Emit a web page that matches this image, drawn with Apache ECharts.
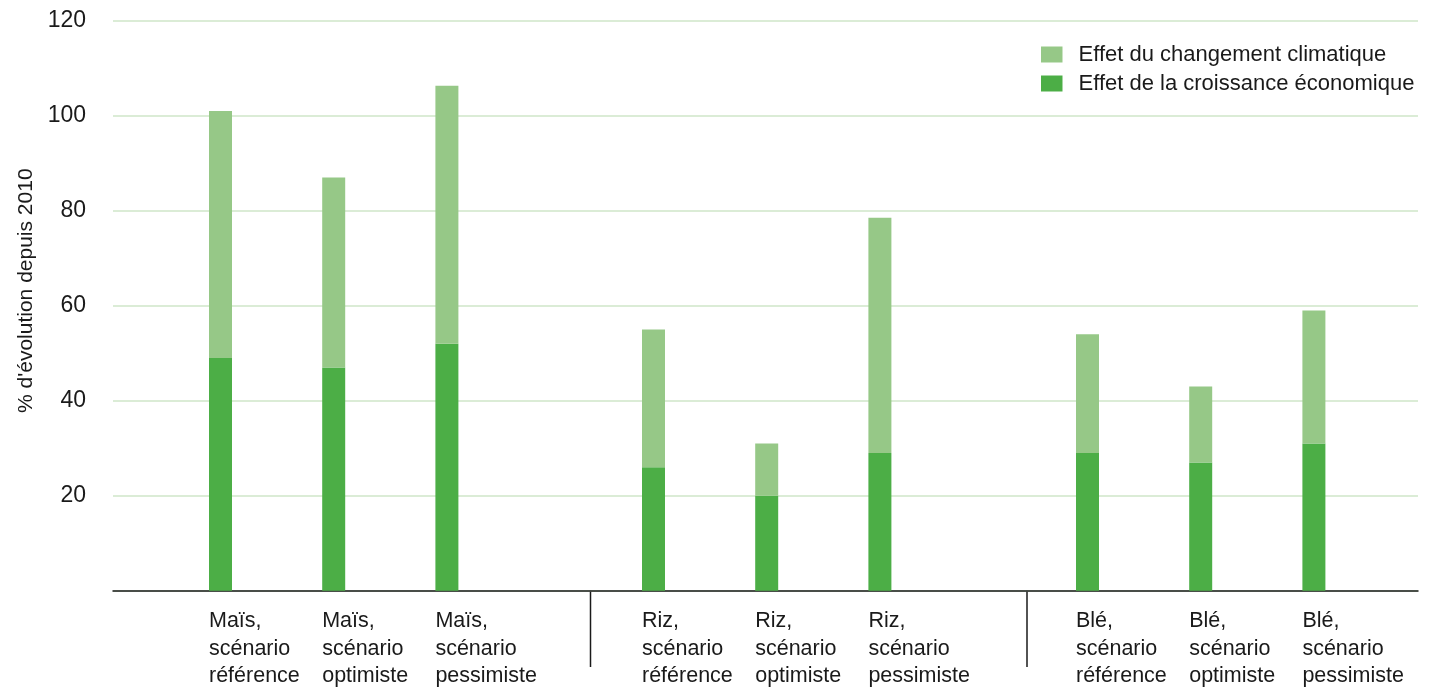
<!DOCTYPE html>
<html lang="fr">
<head>
<meta charset="utf-8">
<title>Évolution depuis 2010 – maïs, riz, blé</title>
<script src="https://cdn.jsdelivr.net/npm/echarts@6/dist/echarts.min.js"></script>
<style>
  html, body { margin: 0; padding: 0; background: #ffffff; }
  #chart { width: 1432px; height: 691px; }
</style>
</head>
<body>
<div id="chart"></div>
<script>
// Crops and scenarios (one bar per crop × scenario)
const crops = ['Maïs', 'Riz', 'Blé'];
const scenarios = ['référence', 'optimiste', 'pessimiste'];

// % change since 2010, in crop order then scenario order
const ecoEffect = [49, 47, 52, 26, 20, 29, 29, 27, 31];
const climateEffect = [52, 40, 54.3, 29, 11, 49.5, 25, 16, 28];

// Y ticks
const yTicks = [0, 20, 40, 60, 80, 100, 120];

const nameClimate = 'Effet du changement climatique';
const nameEco = 'Effet de la croissance économique';

const colorClimate = '#96c887';
const colorEco = '#4cae46';
const textColor = '#1a1a1a';
const font = '"Liberation Sans", Arial, sans-serif';

const chart = echarts.init(document.getElementById('chart'), null, { renderer: 'canvas' });

const plotTop = 20.7;
const plotBottom = 100.3;
const catWidth = 113.2;
const firstBarCenters = [220.5, 653.5, 1087.5];

const grids = [{ left: 113, right: 14, top: plotTop, bottom: plotBottom }];
const xAxes = [{
  gridIndex: 0, type: 'category', data: [''],
  axisLine: { show: true, lineStyle: { color: textColor, width: 1.5 } },
  axisTick: { show: false }, axisLabel: { show: false }
}];
const yAxes = [{
  gridIndex: 0, type: 'value', min: yTicks[0], max: yTicks[yTicks.length - 1],
  interval: yTicks[1] - yTicks[0],
  name: '% d\'évolution depuis 2010',
  nameLocation: 'middle', nameGap: 71,
  nameTextStyle: { fontFamily: font, fontSize: 21, color: textColor, padding: [0, 0, 0, 30] },
  axisLine: { show: false }, axisTick: { show: false },
  axisLabel: {
    fontFamily: font, fontSize: 23, color: textColor, margin: 27,
    formatter: v => (v === 0 ? '' : String(v))
  },
  splitLine: { show: true, lineStyle: { color: '#cfe6c8', width: 1.5 } }
}];
const series = [];

crops.forEach((crop, g) => {
  const gi = g + 1;
  grids.push({
    left: firstBarCenters[g] - catWidth / 2,
    width: catWidth * scenarios.length,
    top: plotTop, bottom: plotBottom
  });
  xAxes.push({
    gridIndex: gi, type: 'category',
    data: scenarios.map(s => crop + ',\nscénario\n' + s),
    axisLine: { show: false }, axisTick: { show: false },
    axisLabel: {
      interval: 0, align: 'left', fontFamily: font, fontSize: 21.5,
      lineHeight: 27.5, color: textColor, margin: 17,
      padding: [0, 0, 0, -11.5]
    }
  });
  yAxes.push({
    gridIndex: gi, type: 'value', min: yTicks[0], max: yTicks[yTicks.length - 1],
    show: false
  });
  const from = g * scenarios.length;
  const to = from + scenarios.length;
  series.push({
    name: nameEco, type: 'bar', stack: 'g' + g,
    xAxisIndex: gi, yAxisIndex: gi, barWidth: 23,
    itemStyle: { color: colorEco },
    data: ecoEffect.slice(from, to)
  });
  series.push({
    name: nameClimate, type: 'bar', stack: 'g' + g,
    xAxisIndex: gi, yAxisIndex: gi, barWidth: 23,
    itemStyle: { color: colorClimate },
    data: climateEffect.slice(from, to)
  });
});

// Separators between the crop groups, below the baseline
const separatorX = [590.5, 1027];
const graphic = separatorX.map(x => ({
  type: 'line', silent: true,
  shape: { x1: x, y1: 691 - plotBottom, x2: x, y2: 667 },
  style: { stroke: textColor, lineWidth: 1.5 }
}));

chart.setOption({
  animation: false,
  backgroundColor: '#ffffff',
  grid: grids,
  xAxis: xAxes,
  yAxis: yAxes,
  legend: {
    data: [nameClimate, nameEco],
    orient: 'vertical', left: 1041, top: 43.5, padding: 0,
    itemWidth: 21.5, itemHeight: 16, itemGap: 7, icon: 'rect',
    textStyle: { fontFamily: font, fontSize: 22, color: textColor, padding: [0, 0, 0, 11] }
  },
  graphic: graphic,
  series: series
});
</script>
</body>
</html>
